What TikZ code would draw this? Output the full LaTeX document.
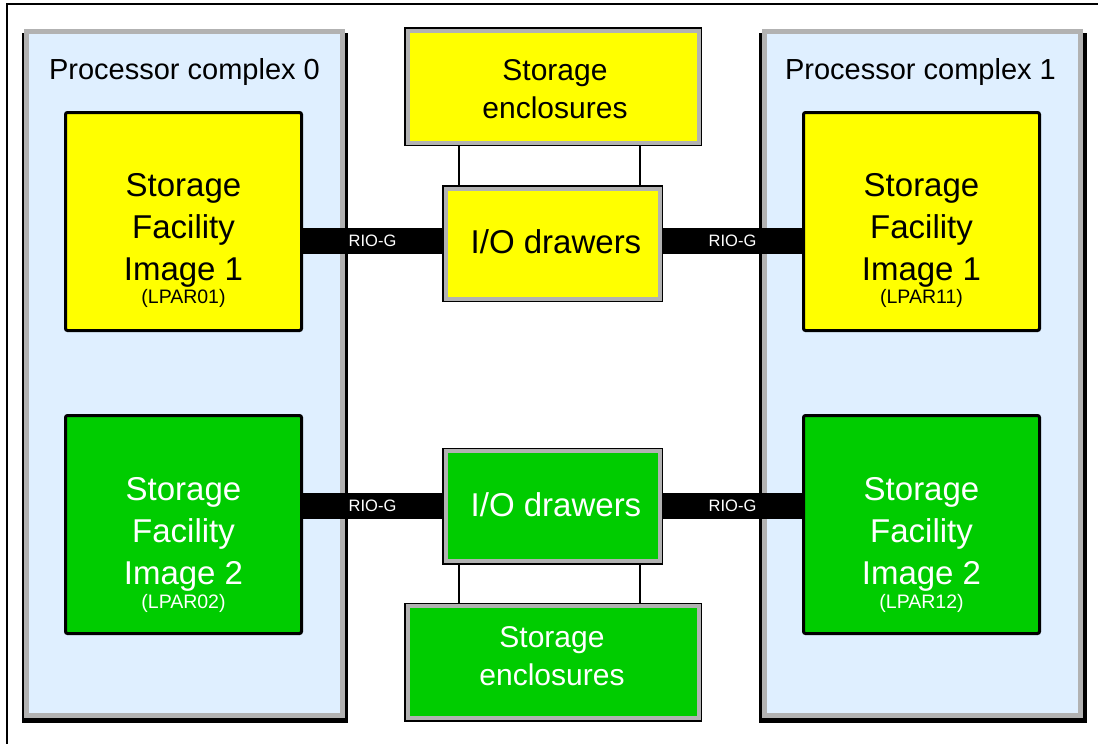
\documentclass[tikz,border=0pt]{standalone}
\usepackage{fontspec}
\setmainfont{Liberation Sans}
\definecolor{pcfill}{RGB}{223,239,255}
\definecolor{bevel}{RGB}{178,178,178}
\definecolor{sfyellow}{RGB}{255,255,0}
\definecolor{sfgreen}{RGB}{0,204,0}

\begin{document}
\begin{tikzpicture}[x=1pt,y=-1pt,
  frame/.style={line width=1.3pt},
  complexbox/.style={draw=bevel, line width=5pt, fill=pcfill, inner sep=0pt, outer sep=2.5pt,
    minimum width=316pt, minimum height=683.5pt},
  title/.style={font=\fontsize{29}{34}\selectfont},
  imagebox/.style={draw=black, line width=3pt, rounded corners=2pt, inner sep=0pt, outer sep=1.5pt,
    minimum width=236pt, minimum height=218pt},
  imagetext/.style={align=center, font=\fontsize{33}{42}\selectfont},
  lpartext/.style={font=\fontsize{19.5}{23}\selectfont},
  unitbox/.style={draw=bevel, line width=4pt, inner sep=0pt, outer sep=3.5pt,
    preaction={draw=black, line width=7pt}},
  drawerbox/.style={unitbox, minimum width=214pt, minimum height=110pt},
  drawertext/.style={font=\fontsize{33}{40}\selectfont},
  enclbox/.style={unitbox, minimum width=291pt, minimum height=112pt},
  encltext/.style={align=center, font=\fontsize{30}{37.5}\selectfont},
  riog/.style={line width=26pt, draw=black},
  riotext/.style={text=white, font=\fontsize{16.5}{19}\selectfont},
  link/.style={line width=2pt, draw=black},
]
\useasboundingbox (0,0) rectangle (1098,744);

% page frame (top and left rules)
\draw[frame] (7,744) -- (7,4) -- (1098,4);

% processor complexes with their drop shadows
\fill[black] (22,33) rectangle (348,723);
\node[complexbox] (pc0) at (184.5,373.25) {};
\fill[black] (759,33) rectangle (1087,723);
\node[complexbox] (pc1) at (922.5,373.25) {};
\node[title] (pc0t) at (184.5,72) {Processor complex 0};
\node[title] (pc1t) at (920.5,72) {Processor complex 1};

% storage facility images
\node[imagebox, fill=sfyellow] (sf01) at (183.5,221.5) {};
\node[imagebox, fill=sfgreen]  (sf02) at (183.5,524.5) {};
\node[imagebox, fill=sfyellow] (sf11) at (921.5,221.5) {};
\node[imagebox, fill=sfgreen]  (sf12) at (921.5,524.5) {};

\node[imagetext] (sf01t) at (183.5,230.5) {Storage\\Facility\\Image 1};
\node[lpartext]  (sf01l) at (183.5,298) {(LPAR01)};
\node[imagetext, text=white] (sf02t) at (183.5,534.5) {Storage\\Facility\\Image 2};
\node[lpartext, text=white]  (sf02l) at (183.5,603) {(LPAR02)};
\node[imagetext] (sf11t) at (921.5,230.5) {Storage\\Facility\\Image 1};
\node[lpartext]  (sf11l) at (921.5,298) {(LPAR11)};
\node[imagetext, text=white] (sf12t) at (921.5,534.5) {Storage\\Facility\\Image 2};
\node[lpartext, text=white]  (sf12l) at (921.5,603) {(LPAR12)};

% I/O drawers and storage enclosures
\node[drawerbox, fill=sfyellow] (io1) at (552.5,243.5) {};
\node[drawerbox, fill=sfgreen] (io2) at (552.5,506) {};
\node[drawertext] (io1t) at (556,241.5) {I/O drawers};
\node[drawertext, text=white] (io2t) at (556,505) {I/O drawers};
\node[enclbox, fill=sfyellow] (se1) at (553,86.5) {};
\node[enclbox, fill=sfgreen] (se2) at (553,662) {};
\node[encltext] (se1t) at (555,89) {Storage\\enclosures};
\node[encltext, text=white] (se2t) at (552,656) {Storage\\enclosures};

% enclosure cabling
\coordinate (a1) at ([xshift=16.5pt]io1.north west);
\coordinate (b1) at ([xshift=-23.5pt]io1.north east);
\draw[link] (a1) -- (a1 |- se1.south);
\draw[link] (b1) -- (b1 |- se1.south);
\coordinate (a2) at ([xshift=16.5pt]io2.south west);
\coordinate (b2) at ([xshift=-23.5pt]io2.south east);
\draw[link] (a2) -- (a2 |- se2.north);
\draw[link] (b2) -- (b2 |- se2.north);

% RIO-G loops
\coordinate (r1l) at ([yshift=2.5pt]io1.west);
\coordinate (r1r) at ([yshift=2.5pt]io1.east);
\coordinate (r2l) at (io2.west);
\coordinate (r2r) at (io2.east);
\draw[riog] (sf01.east |- r1l) -- (r1l) node[midway, riotext] {RIO-G};
\draw[riog] (r1r) -- (sf11.west |- r1r) node[midway, riotext] {RIO-G};
\draw[riog] (sf02.east |- r2l) -- (r2l) node[midway, riotext] {RIO-G};
\draw[riog] (r2r) -- (sf12.west |- r2r) node[midway, riotext] {RIO-G};
\end{tikzpicture}
\end{document}
